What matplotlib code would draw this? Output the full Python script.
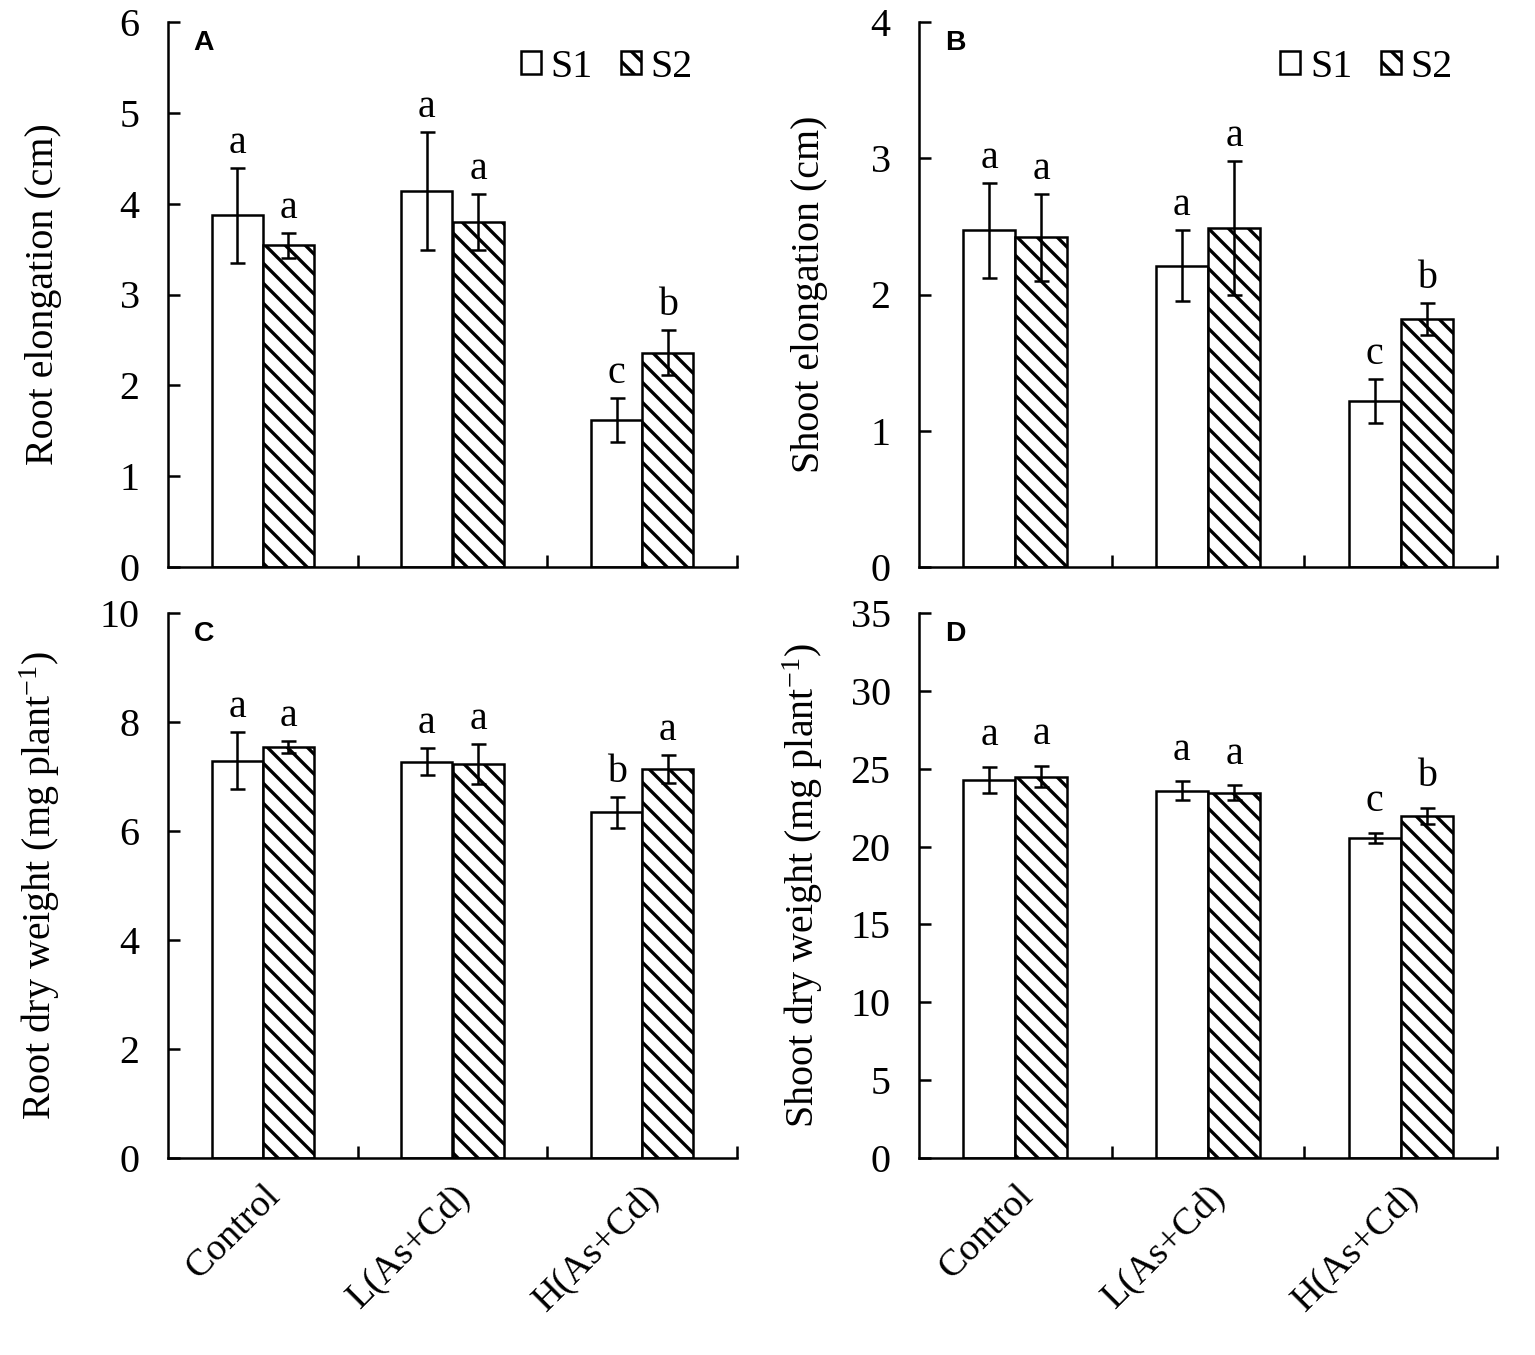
import matplotlib
matplotlib.use("Agg")
import matplotlib.pyplot as plt
import numpy as np
from matplotlib.ticker import FixedLocator
from matplotlib.transforms import ScaledTranslation

plt.rcParams['font.family'] = ['Liberation Serif', 'DejaVu Serif']
plt.rcParams['mathtext.fontset'] = 'custom'
plt.rcParams['mathtext.rm'] = 'Liberation Serif'
plt.rcParams['mathtext.it'] = 'Liberation Serif:italic'
plt.rcParams['axes.unicode_minus'] = False
plt.rcParams['hatch.linewidth'] = 2.0
plt.rcParams['hatch.color'] = 'black'

categories = ["Control", "L(As+Cd)", "H(As+Cd)"]
series = ["S1", "S2"]

# Panel A: Root elongation (cm)
a_s1 = [3.87, 4.14, 1.62]
a_s1_err = [0.52, 0.65, 0.24]
a_s2 = [3.54, 3.80, 2.36]
a_s2_err = [0.14, 0.31, 0.25]
a_s1_let = ["a", "a", "c"]
a_s2_let = ["a", "a", "b"]

# Panel B: Shoot elongation (cm)
b_s1 = [2.47, 2.21, 1.22]
b_s1_err = [0.35, 0.26, 0.16]
b_s2 = [2.42, 2.49, 1.82]
b_s2_err = [0.32, 0.49, 0.12]
b_s1_let = ["a", "a", "c"]
b_s2_let = ["a", "a", "b"]

# Panel C: Root dry weight (mg plant-1)
c_s1 = [7.29, 7.27, 6.34]
c_s1_err = [0.52, 0.25, 0.29]
c_s2 = [7.55, 7.23, 7.14]
c_s2_err = [0.11, 0.37, 0.26]
c_s1_let = ["a", "a", "b"]
c_s2_let = ["a", "a", "a"]

# Panel D: Shoot dry weight (mg plant-1)
d_s1 = [24.3, 23.6, 20.56]
d_s1_err = [0.83, 0.58, 0.32]
d_s2 = [24.5, 23.46, 21.98]
d_s2_err = [0.70, 0.48, 0.50]
d_s1_let = ["a", "a", "c"]
d_s2_let = ["a", "a", "b"]

DPI = 120
fig = plt.figure(figsize=(1535 / DPI, 1355 / DPI), dpi=DPI)

W, H = 1535, 1355
def box(l, r, t, b):
    return [l / W, 1 - b / H, (r - l) / W, (b - t) / H]

panels = [
    dict(pos=box(168, 737, 22, 567), s1=a_s1, e1=a_s1_err, s2=a_s2, e2=a_s2_err,
         l1=a_s1_let, l2=a_s2_let, ylim=(0, 6), yt=np.arange(0, 7, 1),
         ylabel="Root elongation (cm)", tag="A", xlab=False, legend=True, off=9,
         lx=-0.186),
    dict(pos=box(919, 1497, 22, 567), s1=b_s1, e1=b_s1_err, s2=b_s2, e2=b_s2_err,
         l1=b_s1_let, l2=b_s2_let, ylim=(0, 4), yt=np.arange(0, 5, 1),
         ylabel="Shoot elongation (cm)", tag="B", xlab=False, legend=True, off=9,
         lx=-0.158),
    dict(pos=box(168, 737, 613, 1158), s1=c_s1, e1=c_s1_err, s2=c_s2, e2=c_s2_err,
         l1=c_s1_let, l2=c_s2_let, ylim=(0, 10), yt=np.arange(0, 11, 2),
         ylabel="Root dry weight (mg plant$^{-1}$)", tag="C", xlab=True, legend=False, off=9,
         lx=-0.186),
    dict(pos=box(919, 1497, 613, 1158), s1=d_s1, e1=d_s1_err, s2=d_s2, e2=d_s2_err,
         l1=d_s1_let, l2=d_s2_let, ylim=(0, 35), yt=np.arange(0, 36, 5),
         ylabel="Shoot dry weight (mg plant$^{-1}$)", tag="D", xlab=True, legend=False, off=13,
         lx=-0.162),
]

x = np.arange(len(categories))
bw = 0.27
fs = 24

for p in panels:
    ax = fig.add_axes(p["pos"])
    ax.bar(x - bw / 2, p["s1"], bw, color="white", edgecolor="black",
           linewidth=1.5, label=series[0], zorder=2)
    ax.bar(x + bw / 2, p["s2"], bw, color="white", edgecolor="black",
           linewidth=1.5, hatch="\\\\", label=series[1], zorder=2)
    ax.errorbar(x - bw / 2, p["s1"], yerr=p["e1"], fmt="none", ecolor="black",
                elinewidth=1.5, capsize=4.5, capthick=1.5, zorder=3)
    ax.errorbar(x + bw / 2, p["s2"], yerr=p["e2"], fmt="none", ecolor="black",
                elinewidth=1.5, capsize=4.5, capthick=1.5, zorder=3)
    for xi, v, e, t in zip(x - bw / 2, p["s1"], p["e1"], p["l1"]):
        ax.annotate(t, (xi, v + e), xytext=(0, p["off"]), textcoords="offset points",
                    ha="center", va="baseline", fontsize=fs)
    for xi, v, e, t in zip(x + bw / 2, p["s2"], p["e2"], p["l2"]):
        ax.annotate(t, (xi, v + e), xytext=(0, p["off"]), textcoords="offset points",
                    ha="center", va="baseline", fontsize=fs)

    ax.set_xlim(-0.5, 2.5)
    ax.set_ylim(*p["ylim"])
    ax.set_yticks(p["yt"])
    ax.set_yticklabels([str(v) for v in p["yt"]], fontsize=fs)
    ax.tick_params(axis="y", direction="in", length=7, width=1.5, pad=17)
    ax.set_xticks(x)
    if p["xlab"]:
        ax.set_xticklabels(categories, fontsize=23, rotation=45, ha="right",
                           rotation_mode="anchor")
        shift = ScaledTranslation(-12 / DPI, 0, fig.dpi_scale_trans)
        for lab in ax.get_xticklabels():
            lab.set_transform(lab.get_transform() + shift)
    else:
        ax.set_xticklabels([])
    ax.tick_params(axis="x", which="major", length=0, pad=12)
    ax.xaxis.set_minor_locator(FixedLocator([0.5, 1.5, 2.5]))
    ax.tick_params(axis="x", which="minor", direction="in", length=7, width=1.5)
    for s in ["top", "right"]:
        ax.spines[s].set_visible(False)
    for s in ["left", "bottom"]:
        ax.spines[s].set_linewidth(1.5)
    ax.set_ylabel(p["ylabel"], fontsize=fs)
    ax.yaxis.set_label_coords(p["lx"], 0.5)
    ax.text(0.045, 0.985, p["tag"], transform=ax.transAxes, fontsize=17,
            fontweight="bold", family="Liberation Sans", ha="left", va="top")
    if p["legend"]:
        ax.legend(loc="upper right", bbox_to_anchor=(0.965, 0.995), frameon=False,
                  ncol=2, fontsize=fs, handlelength=0.5, handleheight=0.5,
                  handletextpad=0.25, columnspacing=0.7, borderaxespad=0.2)

fig.savefig("out.png", dpi=DPI)
